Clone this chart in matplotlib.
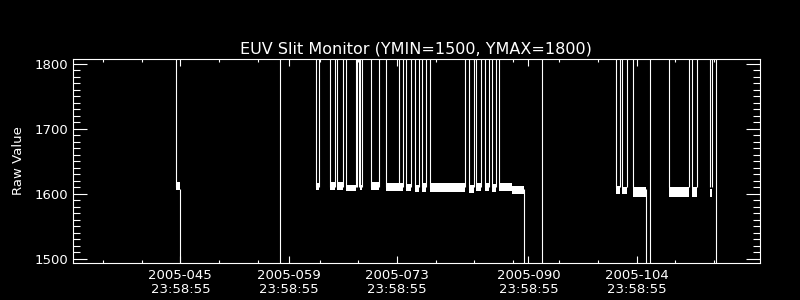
import numpy as np
import matplotlib
matplotlib.use('Agg')
import matplotlib.pyplot as plt

# x in day of year 2005, y in raw counts
# flat stretches of the monitor signal (start day, end day, low, high)
band_start = [44.48, 62.58, 64.39, 65.26, 66.46, 68.27, 69.69, 71.63, 74.21, 75.27,
              76.28, 77.32, 82.28, 83.26, 84.35, 85.33, 86.24, 87.88,
              101.36, 102.14, 103.56, 108.21, 111.18, 113.51]
band_end = [44.92, 62.97, 64.93, 65.97, 67.65, 68.53, 70.65, 73.83, 74.85, 75.88,
            76.80, 81.84, 82.93, 83.91, 84.87, 85.85, 87.88, 89.39,
            101.88, 102.70, 105.24, 110.80, 111.83, 113.77]
band_lo = [1606, 1606, 1606, 1606, 1604, 1606, 1606, 1604, 1604, 1603,
           1603, 1603, 1602, 1604, 1604, 1603, 1604, 1599,
           1599, 1600, 1595, 1595, 1595, 1595]
band_hi = [1618, 1617, 1618, 1618, 1614, 1614, 1618, 1616, 1615, 1614,
           1616, 1616, 1614, 1616, 1616, 1615, 1616, 1612,
           1612, 1611, 1611, 1610, 1610, 1608]

# jumps off the top of the scale
spike_up = [44.48, 62.58, 62.97, 64.39, 64.93, 65.26, 65.97, 66.46, 67.65, 67.84,
            68.14, 68.27, 68.53, 69.69, 70.65, 71.63, 73.23, 73.83, 74.21, 74.85,
            75.27, 75.88, 76.28, 76.80, 77.32, 81.84, 82.28, 82.93, 83.26, 83.91,
            84.35, 84.87, 85.33, 85.85, 86.24, 101.36, 101.88, 102.14, 102.70,
            103.56, 108.21, 110.80, 111.18, 111.83, 113.51, 113.77]
# drops below the bottom of the scale
spike_down = [44.92, 89.39, 105.24]
# lines crossing the whole range
full_lines = [57.93, 91.79, 105.76, 114.29]

major_days = [45, 59, 73, 90, 104]
major_labels = ['2005-045\n23:58:55', '2005-059\n23:58:55', '2005-073\n23:58:55',
                '2005-090\n23:58:55', '2005-104\n23:58:55']
minor_days = [35, 40, 50, 55, 63, 68, 78, 83, 88, 94, 99, 109, 114]

fg = 'white'
fs = 9.5
lw = 0.8

fig = plt.figure(figsize=(8, 3), dpi=100, facecolor='black')
ax = fig.add_axes([0.0913, 0.1233, 0.8587, 0.68], facecolor='black')

for x0, x1, lo, hi in zip(band_start, band_end, band_lo, band_hi):
    ax.fill_between([x0, x1], [lo, lo], [hi, hi], color=fg, lw=0)
ax.vlines(spike_up, 1610, 2000, color=fg, lw=lw)
ax.vlines(spike_down, 1000, 1608, color=fg, lw=lw)
ax.vlines(full_lines, 1000, 2000, color=fg, lw=lw)

ax.set_xlim(31.13, 119.93)
ax.set_ylim(1493.4, 1807.7)

ax.set_xticks(major_days)
ax.set_xticklabels(major_labels, fontsize=fs, color=fg, linespacing=1.1)
ax.set_xticks(minor_days, minor=True)
ax.set_yticks([1500, 1600, 1700, 1800])
ax.set_yticks(np.arange(1500, 1801, 10), minor=True)
ax.tick_params(axis='y', labelsize=fs, labelcolor=fg)

for s in ax.spines.values():
    s.set_color(fg)
    s.set_linewidth(lw)
ax.tick_params(which='both', direction='in', top=True, right=True, colors=fg, width=lw)
ax.tick_params(axis='y', which='major', length=10, pad=3.5)
ax.tick_params(axis='y', which='minor', length=5)
ax.tick_params(axis='x', which='major', length=4.8, pad=4)
ax.tick_params(axis='x', which='minor', length=2.4)

fig.text(0.52, 1 - 53 / 300, 'EUV Slit Monitor (YMIN=1500, YMAX=1800)',
         color=fg, fontsize=11.5, ha='center', va='baseline')
fig.text(18.5 / 800, 0.4633, 'Raw Value', color=fg, fontsize=fs,
         rotation=90, ha='center', va='center')

fig.savefig('out.png', dpi=100, facecolor='black')
